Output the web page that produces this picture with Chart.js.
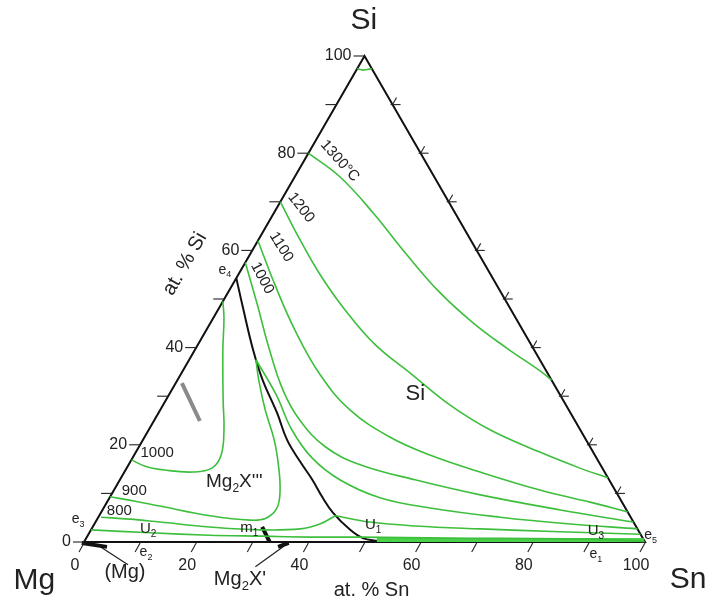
<!DOCTYPE html>
<html>
<head>
<meta charset="utf-8">
<script src="https://cdn.jsdelivr.net/npm/chart.js@4.4.1/dist/chart.umd.min.js"></script>
<style>
  html, body { margin: 0; padding: 0; background: #fff; }
  #wrap { width: 708px; height: 603px; }
</style>
</head>
<body>
<div id="wrap"><canvas id="chart" width="708" height="603"></canvas></div>
<script>
// every point is a composition: [at.% Sn, at.% Si]
const outline = [[0, 0], [100, 0], [0, 100], [0, 0]];

// liquidus isotherms, Si primary field
const iso1400 = [[0, 97.4], [1.2, 97.1], [2.6, 97.4]];
const iso1300 = [[0, 80], [8.1, 75.1], [17.7, 67.7], [28.0, 59.1], [37.8, 51.3], [46.8, 45.1], [55.4, 39.9], [63.7, 35.2], [66.7, 33.3]];
const iso1200 = [[0, 70], [7.4, 62.2], [14.6, 55.0], [22.6, 47.8], [31.6, 40.6], [40.7, 34.8], [51.1, 28.2], [60.8, 23.1], [72.0, 18.5], [80.8, 15.2], [86.8, 13.2]];
const iso1100 = [[0, 62], [7.6, 52.9], [15.8, 43.6], [24.9, 34.4], [33.8, 27.2], [43.7, 21.6], [52.7, 17.9], [63.4, 14.4], [75.9, 10.7], [86.1, 8.2], [93.8, 6.2]];
const iso1000Si = [[0, 57.5], [6.8, 48.4], [12.5, 40.6], [19.8, 31.3], [25.9, 25.1], [33.2, 19.6], [41.3, 15.9], [52.6, 12.8], [65.8, 9.7], [81.6, 6.6], [95.9, 4.1]];
const iso900Si = [[11.9, 37.5], [19.1, 30.3], [25.5, 23.1], [32.0, 17.3], [39.2, 12.8], [48.2, 9.1], [58.2, 7.0], [71.6, 5.1], [84.8, 3.7], [97.3, 2.7]];
const iso800Si = [[42.1, 5.4], [48.9, 4.1], [57.4, 3.3], [69.3, 2.7], [83.8, 2.1], [98.4, 1.6]];

// liquidus isotherms, Mg2X''' primary field
const iso1000Mg2X = [[0, 16.9], [3.1, 15.6], [7.0, 14.8], [12.2, 14.4], [15.2, 15.2], [15.5, 17.9], [13.4, 23.1], [10.2, 29.2], [5.0, 39.5], [1.9, 46.1], [0, 49.5]];
const iso900Mg2X = [[0, 9.3], [4.9, 8.4], [9.8, 7.4], [19.8, 5.4], [27.3, 4.5], [30.0, 4.9], [30.9, 7.0], [29.6, 10.7], [26.7, 15.9], [23.4, 21.0], [18.7, 27.2], [14.5, 33.3], [11.9, 37.5]];
const iso800Mg2X = [[0.5, 5.1], [5.8, 4.7], [11.5, 4.1], [20.9, 3.1], [30.1, 2.5], [37.2, 2.7], [40.2, 3.7], [42.1, 5.4]];

// univariant lines
const valleyLow = [[0, 2.5], [10.8, 1.9], [21.7, 1.4], [31.1, 1.2], [39.8, 1.0], [48.7, 1.0], [64.8, 0.8], [90.8, 0.6], [99.9, 0.1]];
const snBand = [[52, 0.4], [99.6, 0.4]];
const valleyE4U1 = [[0, 54.3], [4.1, 48.4], [10.4, 39.5], [15.2, 33.3], [21.1, 26.6], [25.7, 21.0], [30.3, 16.5], [34.3, 12.8], [37.8, 9.3], [41.4, 6.0], [46.2, 2.5], [49.3, 0.8], [52.3, 0.2]];

// solid phases and pointers
const mg2xSolid = [[1.1, 32.7], [8.2, 24.9]];
const m1Tie = [[30.2, 3.1], [33.1, 0]];
const mgSolid = [[-0.3, -0.2], [4.6, -1.0]];
const mg2xPrime = [[35.1, -1.0], [36.6, -0.2]];
const mgPointer = [[10.2, -4.7], [3.4, -1.0]];
const mg2xPointer = [[33.1, -5.1], [36.0, -1.0]];

// axes
const tickSteps = [0, 10, 20, 30, 40, 50, 60, 70, 80, 90, 100];
const siTickLabels = [0, 20, 40, 60, 80, 100];
const snTickLabels = [0, 20, 40, 60, 80, 100];

const GREEN = "#3dbf3d";
const FONT = '"Liberation Sans", Arial, sans-serif';

// text, anchored at a composition [Sn, Si]
const labels = [
  { t: "Si", at: [-3.7, 107.2], size: 30 },
  { t: "Mg", at: [-4.9, -7.9], size: 30 },
  { t: "Sn", at: [111.6, -7.8], size: 30 },
  { t: "at. % Sn", at: [56.2, -9.9], size: 20 },
  { t: "at. % Si", at: [-10.6, 57.2], size: 20, rot: -60 },
  { t: "Si", at: [43.8, 30.5], size: 22 },
  { t: "Mg_2X'''", at: [20.6, 12.4], size: 19 },
  { t: "Mg_2X'", at: [31.7, -7.8], size: 20 },
  { t: "(Mg)", at: [10.4, -6.2], size: 20 },
  { t: "1300°C", at: [6.4, 78.4], size: 15, rot: 48 },
  { t: "1200", at: [4.3, 68.8], size: 15, rot: 52 },
  { t: "1100", at: [4.8, 60.7], size: 15, rot: 58 },
  { t: "1000", at: [4.6, 54.3], size: 15, rot: 62 },
  { t: "1000", at: [3.9, 18.3], size: 15 },
  { t: "900", at: [3.7, 10.5], size: 15 },
  { t: "800", at: [3.1, 6.4], size: 15 },
  { t: "e_4", at: [-2.9, 56.0], size: 14 },
  { t: "e_3", at: [-3.4, 4.7], size: 14 },
  { t: "e_2", at: [12.1, -2.1], size: 14 },
  { t: "e_1", at: [92.5, -2.5], size: 14 },
  { t: "e_5", at: [100.3, 1.4], size: 14 },
  { t: "U_2", at: [10.1, 2.7], size: 15 },
  { t: "U_1", at: [49.8, 3.5], size: 15 },
  { t: "U_3", at: [90.1, 2.3], size: 15 },
  { t: "m_1", at: [28.0, 2.9], size: 15 },
];

const toXY = ([sn, si]) => ({ x: sn + si / 2, y: (si * Math.sqrt(3)) / 2 });

const line = (data, color, width, tension) => ({
  data: data.map(toXY),
  showLine: true,
  borderColor: color,
  borderWidth: width,
  pointRadius: 0,
  tension: tension,
  fill: false,
  clip: false,
});

// draws "ab_cd" with the character after _ as a subscript
function drawRich(ctx, str, x, y, size, rot) {
  const segs = [];
  for (let i = 0; i < str.length; i++) {
    if (str[i] === "_") {
      segs.push({ t: str[i + 1], sub: true });
      i++;
    } else if (segs.length && !segs[segs.length - 1].sub) {
      segs[segs.length - 1].t += str[i];
    } else {
      segs.push({ t: str[i], sub: false });
    }
  }
  const subSize = Math.round(size * 0.65);
  let w = 0;
  segs.forEach((s) => {
    ctx.font = `${s.sub ? subSize : size}px ${FONT}`;
    s.w = ctx.measureText(s.t).width;
    w += s.w;
  });
  ctx.save();
  ctx.translate(x, y);
  ctx.rotate(((rot || 0) * Math.PI) / 180);
  ctx.textBaseline = "middle";
  ctx.textAlign = "left";
  let cx = -w / 2;
  segs.forEach((s) => {
    ctx.font = `${s.sub ? subSize : size}px ${FONT}`;
    ctx.fillText(s.t, cx, s.sub ? size * 0.35 : 0);
    cx += s.w;
  });
  ctx.restore();
}

const decor = {
  id: "decor",
  afterDatasetsDraw(chart) {
    const ctx = chart.ctx;
    const xs = chart.scales.x;
    const ys = chart.scales.y;
    const P = (sn, si) => {
      const p = toXY([sn, si]);
      return [xs.getPixelForValue(p.x), ys.getPixelForValue(p.y)];
    };
    const seg = (x1, y1, x2, y2) => {
      ctx.beginPath();
      ctx.moveTo(x1, y1);
      ctx.lineTo(x2, y2);
      ctx.stroke();
    };
    ctx.save();
    ctx.strokeStyle = "#222";
    ctx.lineWidth = 1.1;
    tickSteps.forEach((v) => {
      let [x, y] = P(0, v);
      seg(x - 11, y, x, y);
      [x, y] = P(v, 0);
      seg(x, y + 1, x - 5, y + 10);
      if (v > 0 && v < 100) {
        [x, y] = P(100 - v, v);
        seg(x - 2, y, x + 8, y);
        seg(x, y, x + 4, y - 7);
      }
    });
    ctx.fillStyle = "#222";
    ctx.font = `16px ${FONT}`;
    ctx.textBaseline = "middle";
    ctx.textAlign = "right";
    siTickLabels.forEach((v) => {
      const [x, y] = P(0, v);
      ctx.fillText(String(v), x - 13, y);
    });
    ctx.textAlign = "center";
    snTickLabels.forEach((v) => {
      const [x, y] = P(v, 0);
      ctx.fillText(String(v), x - 9, y + 24);
    });
    labels.forEach((l) => {
      const [x, y] = P(l.at[0], l.at[1]);
      drawRich(ctx, l.t, x, y, l.size, l.rot);
    });
    ctx.restore();
  },
};

new Chart(document.getElementById("chart"), {
  type: "scatter",
  data: {
    datasets: [
      line(iso1400, GREEN, 1.6, 0.4),
      line(iso1300, GREEN, 1.6, 0.4),
      line(iso1200, GREEN, 1.6, 0.4),
      line(iso1100, GREEN, 1.6, 0.4),
      line(iso1000Si, GREEN, 1.6, 0.4),
      line(iso900Si, GREEN, 1.6, 0.4),
      line(iso800Si, GREEN, 1.6, 0.4),
      line(iso1000Mg2X, GREEN, 1.6, 0.4),
      line(iso900Mg2X, GREEN, 1.6, 0.4),
      line(iso800Mg2X, GREEN, 1.6, 0.4),
      line(valleyLow, GREEN, 1.6, 0.3),
      line(snBand, "#4ad14a", 4, 0),
      line(outline, "#111", 2, 0),
      line(valleyE4U1, "#111", 2, 0.4),
      line(mg2xSolid, "#8a8a8a", 4, 0),
      line(m1Tie, "#111", 4, 0),
      line(mgSolid, "#111", 4, 0),
      line(mg2xPrime, "#111", 4, 0),
      line(mgPointer, "#222", 1.2, 0),
      line(mg2xPointer, "#222", 1.2, 0),
    ],
  },
  options: {
    responsive: false,
    animation: false,
    layout: { padding: 0 },
    plugins: {
      legend: { display: false },
      tooltip: { enabled: false },
    },
    scales: {
      x: { type: "linear", min: -14.973, max: 111.23, display: false },
      y: { type: "linear", min: -10.87, max: 96.58, display: false },
    },
  },
  plugins: [decor],
});
</script>
</body>
</html>
